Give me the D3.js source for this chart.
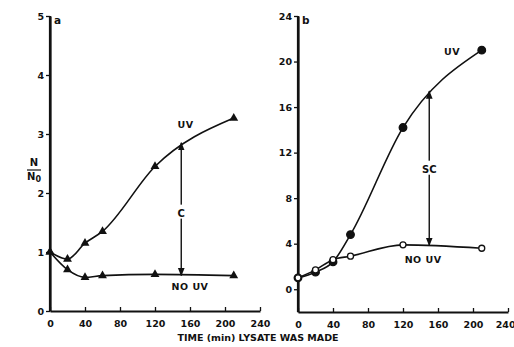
<!DOCTYPE html>
<html>
<head>
<meta charset="utf-8">
<script src="https://cdn.jsdelivr.net/npm/d3@7"></script>
<style>
  body { margin: 0; background: #fff; }
  text { font-family: "DejaVu Sans", "Liberation Sans", Arial, sans-serif; font-weight: bold; fill: #111; }
</style>
</head>
<body>
<svg width="514" height="347"></svg>
<script>
// time (min) lysate was made
var times = [0, 20, 40, 60, 120, 210];

// panel a (triangles)
var aUV   = [1.0, 0.88, 1.15, 1.35, 2.45, 3.27];
var aNoUV = [1.0, 0.70, 0.57, 0.60, 0.62, 0.60];

// panel b (filled circles = UV, open circles = NO UV)
var bUV   = [1.0, 1.5, 2.4, 4.8, 14.2, 21.0];
var bNoUV = [1.0, 1.7, 2.6, 2.9, 3.9, 3.6];

var xTicks = [0, 40, 80, 120, 160, 200, 240];
var aYTicks = [0, 1, 2, 3, 4, 5];
var bYTicks = [0, 4, 8, 12, 16, 20, 24];

var svg = d3.select("svg");
var FONT = "DejaVu Sans, Liberation Sans, Arial, sans-serif";

var defs = svg.append("defs");
defs.append("marker")
    .attr("id", "head")
    .attr("viewBox", "0 0 10 10")
    .attr("refX", 9).attr("refY", 5)
    .attr("markerWidth", 6).attr("markerHeight", 6)
    .attr("orient", "auto-start-reverse")
    .append("path")
    .attr("d", "M0,1L10,5L0,9Z")
    .style("fill", "#111");

function panel(opts) {
    var x = d3.scaleLinear().domain([0, 240]).range(opts.xr);
    var y = d3.scaleLinear().domain(opts.yd).range(opts.yr);
    var g = svg.append("g");

    // y axis
    var ya = g.append("g")
        .attr("transform", "translate(" + opts.xr[0] + ",0)")
        .call(d3.axisLeft(y).tickValues(opts.yTicks).tickFormat(d3.format("d"))
            .tickSize(4).tickPadding(2).tickSizeOuter(0));
    // x axis, ticks pointing up
    var xa = g.append("g")
        .attr("transform", "translate(0," + opts.yr[0] + ")")
        .call(d3.axisBottom(x).tickValues(xTicks).tickSize(-4).tickPadding(9).tickSizeOuter(0));

    [ya, xa].forEach(function(a) {
        a.select(".domain").style("stroke", "#111").style("stroke-width", 2.2);
        a.selectAll(".tick line").style("stroke", "#111").style("stroke-width", 1.3);
        a.selectAll("text").style("font-size", "9.5px").style("font-family", FONT)
            .style("font-weight", "bold").style("fill", "#111");
    });
    if (opts.lastEnd) {
        xa.selectAll(".tick text").filter(function(d) { return d === 240; })
            .attr("text-anchor", "end").attr("dx", 7);
    }
    // extend y axis line down to the x axis
    g.append("line")
        .attr("x1", opts.xr[0]).attr("x2", opts.xr[0])
        .attr("y1", y(opts.yd[1])).attr("y2", opts.yr[0])
        .style("stroke", "#111").style("stroke-width", 2.2);

    g.append("text")
        .attr("x", opts.xr[0] + 4).attr("y", y(opts.yd[1]) + 8)
        .style("font-size", "10.5px")
        .text(opts.letter);

    var line = d3.line()
        .x(function(d) { return x(d[0]); })
        .y(function(d) { return y(d[1]); })
        .curve(d3.curveMonotoneX);

    opts.series.forEach(function(s) {
        var pts = times.map(function(t, i) { return [t, s.values[i]]; });
        g.append("path")
            .datum(pts)
            .attr("d", line)
            .style("fill", "none").style("stroke", "#111").style("stroke-width", 1.6);

        if (s.shape === "tri") {
            g.selectAll(null).data(pts).enter().append("path")
                .attr("transform", function(d) { return "translate(" + x(d[0]) + "," + y(d[1]) + ")"; })
                .attr("d", d3.symbol().type(d3.symbolTriangle).size(34))
                .style("fill", "#111");
        } else {
            g.selectAll(null).data(pts).enter().append("circle")
                .attr("cx", function(d) { return x(d[0]); })
                .attr("cy", function(d) { return y(d[1]); })
                .attr("r", s.shape === "open" ? 3 : 3.8)
                .style("fill", s.shape === "open" ? "#fff" : "#111")
                .style("stroke", "#111").style("stroke-width", 1.3);
        }
    });

    // double arrow between curves at t = 150
    var ar = opts.arrow;
    g.append("line")
        .attr("x1", x(150)).attr("x2", x(150))
        .attr("y1", y(ar.lo)).attr("y2", y(ar.hi))
        .attr("marker-start", "url(#head)")
        .attr("marker-end", "url(#head)")
        .style("stroke", "#111").style("stroke-width", 1.4);
    var tw = ar.text.length * 8 + 2;
    g.append("rect")
        .attr("x", x(150) - tw / 2).attr("y", y(ar.labelY) - 9)
        .attr("width", tw).attr("height", 14)
        .style("fill", "#fff");
    g.append("text")
        .attr("x", x(150)).attr("y", y(ar.labelY) + 3)
        .attr("text-anchor", "middle")
        .style("font-size", "10px")
        .text(ar.text);

    opts.labels.forEach(function(l) {
        g.append("text")
            .attr("x", x(l.t)).attr("y", y(l.v))
            .attr("text-anchor", "middle")
            .style("font-size", "9.5px")
            .style("letter-spacing", "0.5px")
            .text(l.text);
    });
}

panel({
    xr: [50, 260], yd: [0, 5], yr: [311, 16], yTicks: aYTicks, letter: "a",
    series: [
        { values: aUV, shape: "tri" },
        { values: aNoUV, shape: "tri" }
    ],
    arrow: { lo: 0.6, hi: 2.85, labelY: 1.65, text: "C" },
    labels: [
        { t: 155, v: 3.1, text: "UV" },
        { t: 160, v: 0.36, text: "NO UV" }
    ]
});

panel({
    xr: [298, 508], yd: [-2, 24], yr: [312, 16], yTicks: bYTicks, letter: "b", lastEnd: true,
    series: [
        { values: bUV, shape: "filled" },
        { values: bNoUV, shape: "open" }
    ],
    arrow: { lo: 3.85, hi: 17.4, labelY: 10.5, text: "SC" },
    labels: [
        { t: 176, v: 20.6, text: "UV" },
        { t: 143, v: 2.3, text: "NO UV" }
    ]
});

// y label N / N0
var yl = svg.append("g").attr("transform", "translate(34,0)");
yl.append("text").attr("x", 0).attr("y", 166).attr("text-anchor", "middle").style("font-size", "10px").text("N");
yl.append("line").attr("x1", -7).attr("x2", 7).attr("y1", 170).attr("y2", 170).style("stroke", "#111").style("stroke-width", 1.2);
var n0 = yl.append("text").attr("x", 0).attr("y", 180).attr("text-anchor", "middle").style("font-size", "10px");
n0.append("tspan").text("N");
n0.append("tspan").attr("dy", 2).style("font-size", "8px").text("0");

svg.append("text")
    .attr("x", 258).attr("y", 341)
    .attr("text-anchor", "middle")
    .style("font-size", "9.5px")
    .text("TIME (min) LYSATE WAS MADE");
</script>
</body>
</html>
